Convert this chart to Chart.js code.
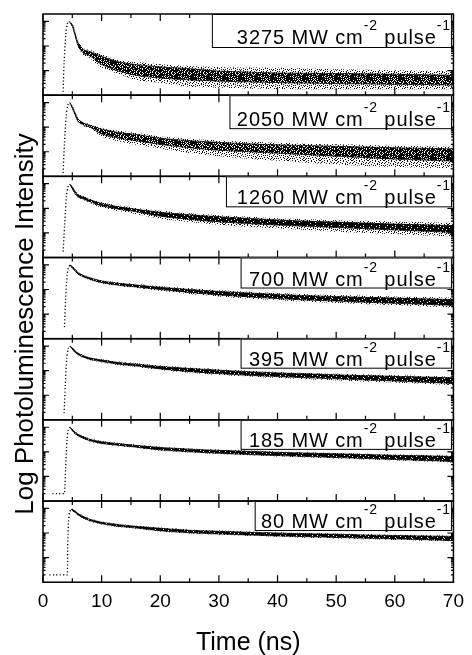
<!DOCTYPE html>
<html><head><meta charset="utf-8">
<script src="https://cdn.jsdelivr.net/npm/chart.js@4.4.0/dist/chart.umd.min.js"></script>
<style>html,body{margin:0;padding:0;background:#fff;}canvas{display:block;}</style>
</head><body>
<canvas id="c" width="472" height="655"></canvas>
<script>
// ---- data (time in ns, value = log10 of PL intensity) ----
const panelLabels = ['3275', '2050', '1260', '700', '395', '185', '80'];
const xTicks = [0, 10, 20, 30, 40, 50, 60, 70];
const bandTime = [5, 5.5, 6, 7, 8, 10, 13, 16, 20, 25, 30, 35, 40, 45, 50, 55, 60, 65, 70];

const riseTimes = [
  [3.43, 3.6, 3.9, 4.15, 4.45],
  [3.43, 3.65, 3.95, 4.25, 4.56],
  [3.43, 3.7, 4.0, 4.3, 4.56],
  [3.66, 3.85, 4.1, 4.35, 4.61],
  [3.6, 3.8, 4.05, 4.3, 4.56],
  [1.6, 2.5, 3.4, 3.65, 3.85, 4.1, 4.3, 4.56],
  [1.1, 2.0, 3.0, 3.9, 4.15, 4.2, 4.35, 4.55, 4.84]
];
const riseValues = [
  [0.14, 1.35, 2.5, 2.9, 3.0],
  [0.14, 1.3, 2.45, 2.9, 3.0],
  [0.24, 1.35, 2.5, 2.9, 2.98],
  [0.47, 1.6, 2.55, 2.9, 3.0],
  [0.27, 1.4, 2.5, 2.9, 3.0],
  [0.30, 0.30, 0.30, 0.30, 1.3, 2.5, 2.9, 3.0],
  [0.30, 0.30, 0.30, 0.30, 0.30, 1.35, 2.43, 2.86, 2.97]
];
// dense core of the decay band (upper / lower edge)
const coreHigh = [
  [2.87, 2.50, 2.12, 1.84, 1.78, 1.58, 1.35, 1.24, 1.15, 1.08, 0.98, 0.94, 0.90, 0.89, 0.88, 0.87, 0.85, 0.83, 0.81],
  [2.84, 2.58, 2.32, 2.16, 2.08, 1.92, 1.78, 1.70, 1.55, 1.45, 1.38, 1.32, 1.28, 1.25, 1.22, 1.19, 1.16, 1.14, 1.12],
  [2.87, 2.68, 2.54, 2.45, 2.35, 2.20, 2.06, 1.96, 1.84, 1.74, 1.66, 1.59, 1.53, 1.48, 1.44, 1.40, 1.36, 1.33, 1.29],
  [2.93, 2.80, 2.68, 2.56, 2.48, 2.35, 2.25, 2.18, 2.09, 2.00, 1.92, 1.86, 1.80, 1.75, 1.71, 1.68, 1.65, 1.62, 1.59],
  [2.93, 2.80, 2.71, 2.60, 2.52, 2.43, 2.33, 2.26, 2.17, 2.09, 2.02, 1.96, 1.91, 1.87, 1.83, 1.80, 1.77, 1.74, 1.71],
  [2.91, 2.80, 2.71, 2.60, 2.51, 2.41, 2.33, 2.26, 2.18, 2.11, 2.06, 2.02, 1.98, 1.95, 1.92, 1.89, 1.86, 1.84, 1.81],
  [2.97, 2.89, 2.79, 2.66, 2.56, 2.44, 2.34, 2.27, 2.19, 2.11, 2.07, 2.03, 2.00, 1.97, 1.95, 1.92, 1.90, 1.88, 1.86]
];
const coreLow = [
  [2.80, 2.40, 2.00, 1.68, 1.60, 1.25, 0.97, 0.80, 0.70, 0.62, 0.57, 0.54, 0.51, 0.49, 0.47, 0.46, 0.44, 0.43, 0.41],
  [2.77, 2.49, 2.22, 2.08, 2.00, 1.72, 1.55, 1.44, 1.30, 1.16, 1.06, 1.00, 0.94, 0.88, 0.82, 0.76, 0.70, 0.66, 0.62],
  [2.80, 2.60, 2.46, 2.37, 2.27, 2.10, 1.96, 1.86, 1.68, 1.55, 1.45, 1.38, 1.32, 1.27, 1.22, 1.17, 1.12, 1.07, 1.02],
  [2.87, 2.74, 2.62, 2.50, 2.42, 2.28, 2.17, 2.10, 2.00, 1.88, 1.78, 1.70, 1.63, 1.57, 1.53, 1.48, 1.44, 1.40, 1.35],
  [2.87, 2.74, 2.65, 2.54, 2.46, 2.37, 2.26, 2.19, 2.07, 1.96, 1.88, 1.81, 1.76, 1.71, 1.67, 1.62, 1.58, 1.53, 1.48],
  [2.86, 2.74, 2.65, 2.54, 2.45, 2.34, 2.26, 2.19, 2.08, 2.00, 1.94, 1.89, 1.85, 1.81, 1.77, 1.73, 1.69, 1.65, 1.61],
  [2.91, 2.83, 2.73, 2.60, 2.50, 2.38, 2.27, 2.20, 2.09, 2.01, 1.96, 1.92, 1.88, 1.85, 1.82, 1.79, 1.76, 1.73, 1.69]
];
// sparse scatter envelope (upper / lower edge)
const spreadHigh = [
  [2.90, 2.55, 2.18, 1.90, 1.84, 1.66, 1.42, 1.35, 1.26, 1.19, 1.15, 1.12, 1.11, 1.08, 1.05, 1.03, 1.01, 0.99, 0.97],
  [2.87, 2.62, 2.36, 2.20, 2.12, 1.97, 1.85, 1.76, 1.62, 1.53, 1.46, 1.41, 1.37, 1.33, 1.30, 1.27, 1.24, 1.22, 1.20],
  [2.90, 2.71, 2.57, 2.48, 2.39, 2.25, 2.11, 2.01, 1.90, 1.80, 1.72, 1.66, 1.60, 1.56, 1.52, 1.49, 1.46, 1.43, 1.40],
  [2.95, 2.83, 2.71, 2.59, 2.51, 2.38, 2.29, 2.22, 2.13, 2.05, 1.97, 1.91, 1.86, 1.81, 1.78, 1.75, 1.72, 1.69, 1.66],
  [2.95, 2.83, 2.74, 2.63, 2.55, 2.46, 2.37, 2.30, 2.21, 2.13, 2.06, 2.00, 1.95, 1.91, 1.87, 1.84, 1.81, 1.78, 1.75],
  [2.93, 2.83, 2.74, 2.63, 2.54, 2.44, 2.36, 2.29, 2.21, 2.14, 2.09, 2.05, 2.01, 1.98, 1.95, 1.92, 1.89, 1.87, 1.84],
  [2.98, 2.91, 2.82, 2.69, 2.59, 2.47, 2.37, 2.30, 2.22, 2.14, 2.10, 2.06, 2.03, 2.00, 1.98, 1.95, 1.93, 1.91, 1.89]
];
const spreadLow = [
  [2.78, 2.36, 1.95, 1.60, 1.50, 1.12, 0.85, 0.61, 0.51, 0.34, 0.30, 0.27, 0.25, 0.24, 0.24, 0.24, 0.24, 0.24, 0.24],
  [2.74, 2.45, 2.18, 2.03, 1.95, 1.62, 1.42, 1.28, 1.12, 0.95, 0.82, 0.72, 0.64, 0.55, 0.48, 0.42, 0.38, 0.35, 0.33],
  [2.77, 2.57, 2.43, 2.33, 2.22, 2.03, 1.88, 1.76, 1.58, 1.44, 1.33, 1.24, 1.18, 1.12, 1.05, 1.00, 0.95, 0.90, 0.86],
  [2.85, 2.71, 2.59, 2.47, 2.39, 2.25, 2.13, 2.06, 1.95, 1.82, 1.72, 1.63, 1.56, 1.50, 1.45, 1.40, 1.36, 1.31, 1.26],
  [2.85, 2.71, 2.62, 2.51, 2.43, 2.33, 2.22, 2.15, 2.03, 1.92, 1.83, 1.76, 1.70, 1.65, 1.60, 1.55, 1.51, 1.46, 1.42],
  [2.84, 2.71, 2.62, 2.51, 2.42, 2.31, 2.23, 2.16, 2.05, 1.97, 1.91, 1.86, 1.81, 1.77, 1.73, 1.69, 1.65, 1.61, 1.57],
  [2.90, 2.80, 2.70, 2.57, 2.47, 2.35, 2.24, 2.17, 2.06, 1.98, 1.93, 1.89, 1.85, 1.81, 1.78, 1.75, 1.72, 1.69, 1.66]
];

// ---- layout / style settings ----
const FONT = '"Liberation Sans", Arial, Helvetica, sans-serif';
const boxLeftTime = [28.8, 31.8, 31.2, 33.7, 33.7, 33.7, 36.1];
const boxHeight = [34, 34, 31, 31, 30, 30, 30];
const boxBaselineGap = [4, 3, 3, 3, 3, 3, 3];
const coreStyle = ['medium', 'medium', 'dense', 'dense', 'dense', 'dense', 'dense'];

// fixed speckle textures (style only, hand-drawn bitmaps)
const TEXTURES = {
  dense: [
    '################', '###.#######.####', '########.#######', '#.#########.####',
    '######.#########', '##########.###.#', '###.############', '########.####.##',
    '.###############', '#####.#####.####', '############.###', '##.#######.#####',
    '#######.########', '####.########.##', '###########.####', '#.####.#########'
  ],
  medium: [
    '#.##.####.#.###.', '###.##.#.###.#.#', '.##.###.##.####.', '##.###.#.#.##.##',
    '#.###.###.##.#.#', '###.#.####.###.#', '.###.#.##.#.####', '##.##.##.###.#.#',
    '#.####.#.##.##.#', '.##.#.###.#.###.', '##.##.##.###.#.#', '#.###.#.#####.##',
    '##.#.###.#.##.#.', '.####.#.###.#.##', '##.#.####.#.###.', '#.###.#.##.##.##'
  ],
  sparse: [
    '#...#..#....#..#', '..#....#..#.....', '.#..#......#..#.', '#.....#..#...#..',
    '...#.....#.#....', '.#...#.#.....#.#', '#..#.......#....', '.....#.#..#...#.',
    '..#.#.....#.#...', '#......#.#....#.', '..#..#.......#..', '.#.....#.#.#....',
    '...#.#.......#.#', '#.......#..#....', '..#.#.#.....#..#', '.#.......#....#.'
  ]
};
function makePattern(rows) {
  const c = document.createElement('canvas');
  c.width = rows[0].length; c.height = rows.length;
  const g = c.getContext('2d');
  g.fillStyle = '#000';
  rows.forEach((r, y) => { for (let x = 0; x < r.length; x++) if (r[x] === '#') g.fillRect(x, y, 1, 1); });
  return g.createPattern(c, 'repeat');
}
const patterns = {};
Object.keys(TEXTURES).forEach(k => { patterns[k] = makePattern(TEXTURES[k]); });

const ids = panelLabels.map((_, i) => 'p' + i);

const scales = {
  x: {
    type: 'linear', position: 'bottom', min: 0, max: 70,
    afterBuildTicks: s => { s.ticks = xTicks.map(v => ({ value: v })); },
    ticks: { color: '#000', font: { family: FONT, size: 19 }, padding: 8, maxRotation: 0, autoSkip: false },
    grid: { display: false, drawTicks: false },
    border: { display: false },
    title: { display: true, text: 'Time (ns)', color: '#000', font: { family: FONT, size: 25 }, padding: { top: 7, bottom: -3 } }
  }
};
for (let i = panelLabels.length - 1; i >= 0; i--) {
  scales[ids[i]] = {
    type: 'linear', position: 'left', stack: 'panels', stackWeight: 1,
    min: 0, max: 3.3, display: true,
    ticks: { display: false }, grid: { display: false, drawTicks: false }, border: { display: false }
  };
}

const datasets = [];
panelLabels.forEach((lab, i) => {
  const yAxisID = ids[i];
  const n = riseTimes[i].length;
  const peak = { x: riseTimes[i][n - 1], y: riseValues[i][n - 1] };
  const band = arr => [peak].concat(bandTime.map((t, j) => ({ x: t, y: arr[i][j] })));
  datasets.push({ label: lab + ' rise', yAxisID, data: riseTimes[i].map((t, j) => ({ x: t, y: riseValues[i][j] })),
    borderColor: '#000', borderWidth: 1.3, borderDash: [1.2, 2.2], pointRadius: 0, fill: false, order: 0 });
  datasets.push({ label: lab + ' core high', yAxisID, data: band(coreHigh), borderColor: 'rgba(0,0,0,0.75)', borderWidth: 1,
    backgroundColor: patterns[coreStyle[i]], fill: '+1', pointRadius: 0, order: 1 });
  datasets.push({ label: lab + ' core low', yAxisID, data: band(coreLow), borderColor: 'rgba(0,0,0,0.75)', borderWidth: 1,
    fill: false, pointRadius: 0, order: 1 });
  datasets.push({ label: lab + ' spread high', yAxisID, data: band(spreadHigh), borderColor: 'rgba(0,0,0,0)', borderWidth: 0,
    backgroundColor: patterns.sparse, fill: '+1', pointRadius: 0, order: 2 });
  datasets.push({ label: lab + ' spread low', yAxisID, data: band(spreadLow), borderColor: 'rgba(0,0,0,0)', borderWidth: 0,
    fill: false, pointRadius: 0, order: 2 });
});

const framePlugin = {
  id: 'frame',
  afterDatasetsDraw(chart) {
    const ctx = chart.ctx, xs = chart.scales.x;
    const { left, right } = chart.chartArea;
    ctx.save();
    ctx.strokeStyle = '#000';
    ids.forEach((id, i) => {
      const s = chart.scales[id];
      const top = s.top, bot = s.bottom;
      ctx.lineWidth = 1.2;
      ctx.beginPath();
      for (let t = 0; t <= 70; t += 5) {
        const px = xs.getPixelForValue(t);
        const L = t % 10 === 0 ? 7 : 4;
        ctx.moveTo(px, bot); ctx.lineTo(px, bot - L);
        ctx.moveTo(px, top); ctx.lineTo(px, top + L);
      }
      for (let k = 0; k <= 3; k++) {
        for (let m = 1; m <= 9; m++) {
          const v = k + Math.log10(m);
          if (v <= 0.01 || v >= s.max - 0.01) continue;
          const py = s.getPixelForValue(v);
          const L = m === 1 ? 6 : 2.5;
          ctx.moveTo(left, py); ctx.lineTo(left + L, py);
          ctx.moveTo(right, py); ctx.lineTo(right - L, py);
        }
      }
      ctx.stroke();
      ctx.lineWidth = 1.5;
      ctx.strokeRect(left, top, right - left, bot - top);

      // label box
      const bx = xs.getPixelForValue(boxLeftTime[i]);
      const bRight = right - 1.5;
      const bBot = top + boxHeight[i];
      ctx.fillStyle = '#fff';
      ctx.fillRect(bx, top, bRight - bx, bBot - top);
      ctx.lineWidth = 1;
      ctx.strokeRect(bx + 0.5, top + 0.5, bRight - bx - 1, bBot - top - 1);

      const parts = [
        { t: panelLabels[i] + ' MW cm', sup: false },
        { t: '-2', sup: true },
        { t: ' pulse', sup: false },
        { t: '-1', sup: true }
      ];
      if ('letterSpacing' in ctx) ctx.letterSpacing = '0.9px';
      let total = 0;
      parts.forEach(p => { ctx.font = (p.sup ? '14px ' : '20px ') + FONT; p.w = ctx.measureText(p.t).width; total += p.w; });
      let x = bRight - 1 - total;
      const base = bBot - boxBaselineGap[i];
      ctx.fillStyle = '#000';
      ctx.textAlign = 'left';
      ctx.textBaseline = 'alphabetic';
      parts.forEach(p => {
        ctx.font = (p.sup ? '14px ' : '20px ') + FONT;
        ctx.fillText(p.t, x, p.sup ? base - 14 : base);
        x += p.w;
      });
      if ('letterSpacing' in ctx) ctx.letterSpacing = '0px';
    });
    // y-axis title
    ctx.translate(33, 324);
    ctx.rotate(-Math.PI / 2);
    ctx.font = '26px ' + FONT;
    ctx.fillStyle = '#000';
    ctx.textAlign = 'center';
    ctx.textBaseline = 'alphabetic';
    ctx.fillText('Log Photoluminescence Intensity', 0, 0);
    ctx.restore();
  }
};

new Chart(document.getElementById('c'), {
  type: 'line',
  data: { datasets },
  options: {
    responsive: false, animation: false, parsing: true,
    layout: { padding: { left: 43, right: 14, top: 14, bottom: 0 } },
    plugins: { legend: { display: false }, tooltip: { enabled: false } },
    elements: { line: { tension: 0.25 } },
    scales
  },
  plugins: [framePlugin]
});
</script>
</body></html>
